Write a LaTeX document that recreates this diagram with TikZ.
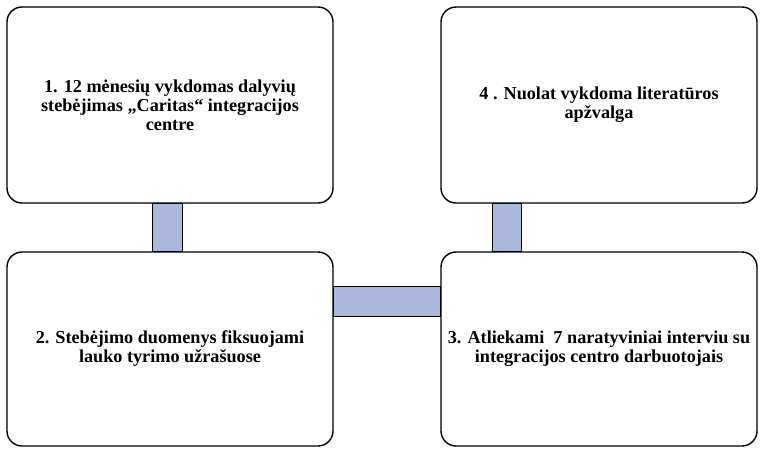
\documentclass[tikz,border=0pt]{standalone}
\usepackage{fontspec}
\setmainfont{Liberation Serif}
\usepackage{tikz}
\usetikzlibrary{calc,backgrounds}

\definecolor{linkblue}{RGB}{170,184,221}

\tikzset{
    stage/.style={draw=black, line width=1.4pt, rounded corners=15pt, fill=white,
        align=center, inner sep=0pt, font=\bfseries\fontsize{18.2}{19}\selectfont},
    link/.style={draw=black, line width=1pt, fill=linkblue}
}

\begin{document}
\begin{tikzpicture}[x=1pt,y=-1pt]
        \useasboundingbox (0,0) rectangle (760,448);

        % Draw the boxes
        \node[stage, minimum width=326pt, minimum height=196pt] (observe) at (170,105)
            {1. 12 mėnesių vykdomas dalyvių\\stebėjimas „Caritas“ integracijos\\centre};
        \node[stage, minimum width=316pt, minimum height=196pt] (review) at (599,105)
            {4 . Nuolat vykdoma literatūros\\apžvalga};
        \node[stage, minimum width=326pt, minimum height=194pt] (notes) at (170,349)
            {2. Stebėjimo duomenys fiksuojami\\lauko tyrimo užrašuose};
        \node[stage, minimum width=316pt, minimum height=194pt] (interviews) at (599,349)
            {3. Atliekami~ 7 naratyviniai interviu su\\integracijos centro darbuotojais};

        % Draw the links
        \begin{scope}[on background layer]
        %1-2
        \draw[link] ($(observe.south)+(-18,0)$) rectangle ($(notes.north)+(12,0)$);
        %4-3
        \draw[link] ($(review.south)+(-107,0)$) rectangle ($(interviews.north)+(-78,0)$);
        %2-3
        \draw[link] ($(notes.east)+(0,-63)$) rectangle ($(interviews.west)+(0,-33)$);
        \end{scope}
    \end{tikzpicture}
\end{document}
